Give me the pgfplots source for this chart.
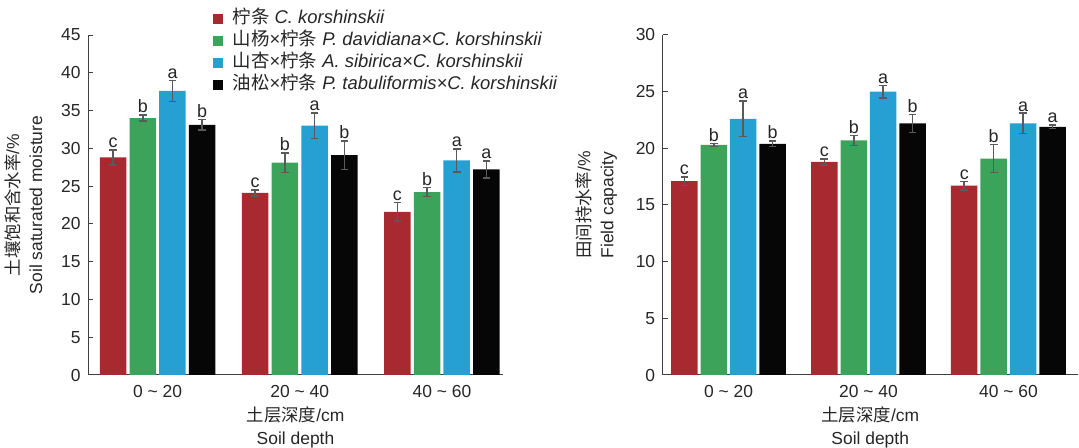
\documentclass[border=0pt]{standalone}
\usepackage{fontspec}
\setmainfont{Liberation Sans}
\newfontfamily\cjk{Noto Sans CJK SC}
\usepackage{pgfplots}
\usepackage{pgfplotstable}
\pgfplotsset{compat=1.18}
\definecolor{cred}{HTML}{A82A30}
\definecolor{cgreen}{HTML}{3CA35A}
\definecolor{cblue}{HTML}{26A0D2}
\definecolor{cblack}{HTML}{060606}
\definecolor{cerr}{HTML}{5A5A5A}
\definecolor{caxis}{HTML}{404040}

\pgfplotstableread{
x r re rl g ge gl b be bl k ke kl
0 28.8 1.0 c 34.0 0.4 b 37.6 1.4 a 33.1 0.7 b
1 24.1 0.4 c 28.1 1.3 b 33.0 1.7 a 29.1 1.9 b
2 21.6 1.2 c 24.2 0.6 b 28.4 1.5 a 27.2 1.15 a
}\leftdata
\pgfplotstableread{
x r re rl g ge gl b be bl k ke kl
0 17.1 0.37 c 20.3 0.12 b 22.6 1.57 a 20.4 0.26 b
1 18.8 0.28 c 20.7 0.44 b 25.0 0.56 a 22.2 0.80 b
2 16.7 0.37 c 19.1 1.25 b 22.2 0.90 a 21.9 0.16 a
}\rightdata

\pgfplotsset{
  myaxis/.style={
    scale only axis, width=415bp, height=340bp,
    anchor=south west,
    axis x line*=bottom, axis y line*=left,
    axis line style={caxis, line width=1bp},
    ymin=0,
    xtick={0,1,2},
    xticklabels={0 \textasciitilde{} 20, 20 \textasciitilde{} 40, 40 \textasciitilde{} 60},
    x tick style={draw=none},
    y tick style={caxis, line width=1bp},
    ytick align=inside, major tick length=5bp,
    /pgf/number format/assume math mode=true,
    tick label style={font=\fontsize{17.5}{20}\selectfont, text=black!85},
    yticklabel style={xshift=-4bp},
    xticklabel style={yshift=-7bp},
    label style={font=\fontsize{17.5}{23}\selectfont, align=center, text=black!85},
    ylabel shift=12bp,
    xlabel={{\cjk 土层深度}/cm\\Soil depth},
    xlabel style={yshift=-2bp},
    clip=false,
  },
  mybar/.style={ybar, bar width=26.5bp, bar shift=0pt, draw=none},
  myerr/.style={draw=none, mark=none,
    error bars/y dir=both, error bars/y explicit,
    error bars/error bar style={draw=cerr, line width=1.5bp},
    error bars/error mark options={rotate=90, draw=cerr, line width=1.5bp, mark size=3.8bp}},
  mylab/.style={draw=none, mark=none, nodes near coords, point meta=explicit symbolic,
    every node near coord/.append style={anchor=south, inner sep=1.8bp,
      font=\fontsize{18}{20}\selectfont, text=black!85}},
  limg/.style={legend image code/.code={\fill[#1, draw=none] (0bp,-5bp) rectangle (10bp,5bp); \path[draw=none] (0bp,0bp) -- (20bp,0bp);}},
}

\begin{document}
\begin{tikzpicture}[font=\fontsize{17.5}{20}\selectfont]
\begin{axis}[myaxis, at={(88bp,73bp)},
  xmin=-0.49, xmax=2.43, ymax=45, ytick={0,5,...,45},
  ylabel={{\cjk 土壤饱和含水率}/\%\\Soil saturated moisture},
  legend style={draw=none, fill=none, at={(rel axis cs:0.30,1.073)}, anchor=north west,
    font=\fontsize{18.5}{20}\selectfont, row sep=3.8bp, inner sep=0pt,
    nodes={text height=13.5bp, text depth=4.5bp, inner sep=0pt},
    text=black!85},
  legend cell align=left,
]
\addplot[mybar, fill=cred, forget plot] table[x expr=\thisrow{x}-0.3134, y=r] {\leftdata};
\addplot[mybar, fill=cgreen, forget plot] table[x expr=\thisrow{x}-0.1045, y=g] {\leftdata};
\addplot[mybar, fill=cblue, forget plot] table[x expr=\thisrow{x}+0.1045, y=b] {\leftdata};
\addplot[mybar, fill=cblack, forget plot] table[x expr=\thisrow{x}+0.3134, y=k] {\leftdata};
\addplot[myerr, forget plot] table[x expr=\thisrow{x}-0.3134, y=r, y error=re] {\leftdata};
\addplot[myerr, forget plot] table[x expr=\thisrow{x}-0.1045, y=g, y error=ge] {\leftdata};
\addplot[myerr, forget plot] table[x expr=\thisrow{x}+0.1045, y=b, y error=be] {\leftdata};
\addplot[myerr, forget plot] table[x expr=\thisrow{x}+0.3134, y=k, y error=ke] {\leftdata};
\addplot[mylab, forget plot] table[x expr=\thisrow{x}-0.3134, y expr=\thisrow{r}+\thisrow{re}, meta=rl] {\leftdata};
\addplot[mylab, forget plot] table[x expr=\thisrow{x}-0.1045, y expr=\thisrow{g}+\thisrow{ge}, meta=gl] {\leftdata};
\addplot[mylab, forget plot] table[x expr=\thisrow{x}+0.1045, y expr=\thisrow{b}+\thisrow{be}, meta=bl] {\leftdata};
\addplot[mylab, forget plot] table[x expr=\thisrow{x}+0.3134, y expr=\thisrow{k}+\thisrow{ke}, meta=kl] {\leftdata};
\addlegendimage{limg=cred}
\addlegendentry{{\cjk 柠条} \textit{C. korshinskii}}
\addlegendimage{limg=cgreen}
\addlegendentry{{\cjk 山杨}×{\cjk 柠条} \textit{P. davidiana×C. korshinskii}}
\addlegendimage{limg=cblue}
\addlegendentry{{\cjk 山杏}×{\cjk 柠条} \textit{A. sibirica×C. korshinskii}}
\addlegendimage{limg=cblack}
\addlegendentry{{\cjk 油松}×{\cjk 柠条} \textit{P. tabuliformis×C. korshinskii}}
\end{axis}
\begin{axis}[myaxis, at={(662.7bp,73bp)},
  xmin=-0.47, xmax=2.495, ymax=30, ytick={0,5,...,30},
  ylabel={{\cjk 田间持水率}/\%\\Field capacity},
]
\addplot[mybar, fill=cred] table[x expr=\thisrow{x}-0.3157, y=r] {\rightdata};
\addplot[mybar, fill=cgreen] table[x expr=\thisrow{x}-0.105, y=g] {\rightdata};
\addplot[mybar, fill=cblue] table[x expr=\thisrow{x}+0.105, y=b] {\rightdata};
\addplot[mybar, fill=cblack] table[x expr=\thisrow{x}+0.3157, y=k] {\rightdata};
\addplot[myerr] table[x expr=\thisrow{x}-0.3157, y=r, y error=re] {\rightdata};
\addplot[myerr] table[x expr=\thisrow{x}-0.105, y=g, y error=ge] {\rightdata};
\addplot[myerr] table[x expr=\thisrow{x}+0.105, y=b, y error=be] {\rightdata};
\addplot[myerr] table[x expr=\thisrow{x}+0.3157, y=k, y error=ke] {\rightdata};
\addplot[mylab] table[x expr=\thisrow{x}-0.3157, y expr=\thisrow{r}+\thisrow{re}, meta=rl] {\rightdata};
\addplot[mylab] table[x expr=\thisrow{x}-0.105, y expr=\thisrow{g}+\thisrow{ge}, meta=gl] {\rightdata};
\addplot[mylab] table[x expr=\thisrow{x}+0.105, y expr=\thisrow{b}+\thisrow{be}, meta=bl] {\rightdata};
\addplot[mylab] table[x expr=\thisrow{x}+0.3157, y expr=\thisrow{k}+\thisrow{ke}, meta=kl] {\rightdata};
\end{axis}
\pgfresetboundingbox
\path[use as bounding box] (0,0) rectangle (1079bp,448bp);
\end{tikzpicture}
\end{document}
